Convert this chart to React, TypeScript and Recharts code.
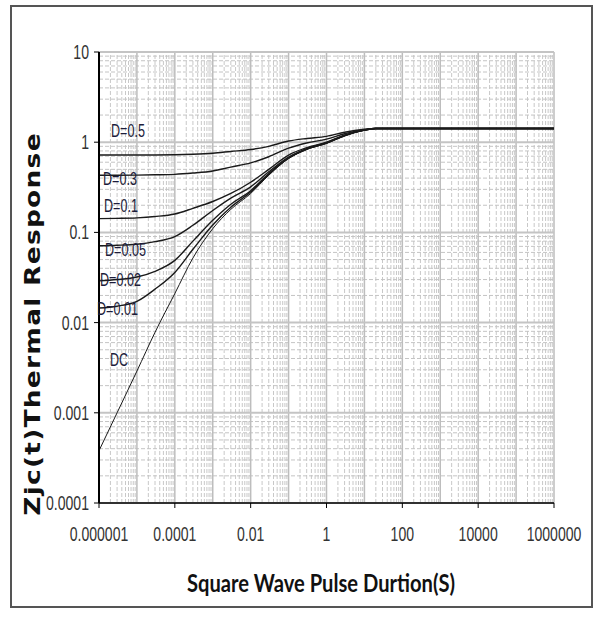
import React from 'react'
import { LineChart, Line, XAxis, YAxis, ReferenceLine } from 'recharts'

// pulse duration (s) and Zjc(t) readings for each duty cycle
const pulseTimes = [1e-6, 3e-6, 1e-5, 3e-5, 1e-4, 3e-4, 1e-3, 3e-3, 1e-2, 3e-2, 0.1, 0.3, 1, 3, 10, 20, 100, 1e3, 1e4, 1e5, 1e6]
const zDC = [0.00038, 0.001, 0.0029, 0.0078, 0.021, 0.052, 0.11, 0.18, 0.27, 0.43, 0.66, 0.83, 0.97, 1.18, 1.36, 1.42, 1.42, 1.42, 1.42, 1.42, 1.42]
const zD001 = [0.0145, 0.0152, 0.0172, 0.0235, 0.036, 0.065, 0.121, 0.19, 0.28, 0.44, 0.665, 0.835, 0.975, 1.18, 1.36, 1.42, 1.42, 1.42, 1.42, 1.42, 1.42]
const zD002 = [0.029, 0.03, 0.032, 0.037, 0.049, 0.08, 0.136, 0.205, 0.29, 0.45, 0.67, 0.84, 0.98, 1.185, 1.36, 1.42, 1.42, 1.42, 1.42, 1.42, 1.42]
const zD005 = [0.071, 0.072, 0.074, 0.079, 0.09, 0.12, 0.175, 0.24, 0.32, 0.47, 0.685, 0.85, 0.99, 1.19, 1.365, 1.42, 1.42, 1.42, 1.42, 1.42, 1.42]
const zD01 = [0.142, 0.143, 0.145, 0.15, 0.16, 0.185, 0.22, 0.27, 0.36, 0.5, 0.72, 0.87, 1.0, 1.2, 1.37, 1.42, 1.42, 1.42, 1.42, 1.42, 1.42]
const zD03 = [0.43, 0.43, 0.432, 0.435, 0.44, 0.455, 0.48, 0.53, 0.59, 0.69, 0.86, 0.98, 1.08, 1.24, 1.38, 1.42, 1.42, 1.42, 1.42, 1.42, 1.42]
const zD05 = [0.72, 0.72, 0.72, 0.722, 0.725, 0.735, 0.755, 0.79, 0.83, 0.9, 1.03, 1.1, 1.16, 1.29, 1.39, 1.42, 1.42, 1.42, 1.42, 1.42, 1.42]

const xTicks = [1e-6, 1e-4, 1e-2, 1, 100, 1e4, 1e6]
const yTicks = [1e-4, 1e-3, 1e-2, 0.1, 1, 10]

const data = pulseTimes.map((t, i) => ({
  t,
  dc: zDC[i],
  d001: zD001[i],
  d002: zD002[i],
  d005: zD005[i],
  d01: zD01[i],
  d03: zD03[i],
  d05: zD05[i],
}))

const seriesKeys = ['dc', 'd001', 'd002', 'd005', 'd01', 'd03', 'd05']

// curve labels placed by hand next to the left ends (x, baseline)
const curveLabels = [
  { text: 'D=0.5', x: 111, y: 137 },
  { text: 'D=0.3', x: 103, y: 185 },
  { text: 'D=0.1', x: 104, y: 212 },
  { text: 'D=0.05', x: 105, y: 256 },
  { text: 'D=0.02', x: 100, y: 286 },
  { text: 'D=0.01', x: 97, y: 315 },
  { text: 'DC', x: 110, y: 366 },
]

const decadeLines = (lo: number, hi: number) => {
  const major: number[] = []
  const minor: number[] = []
  for (let e = lo; e <= hi; e++) {
    major.push(Math.pow(10, e))
    if (e < hi) for (let k = 2; k <= 9; k++) minor.push(k * Math.pow(10, e))
  }
  return { major, minor }
}

const xGrid = decadeLines(-6, 6)
const yGrid = decadeLines(-4, 1)

const fmt = (v: number) => {
  if (v >= 1) return String(Math.round(v))
  const d = Math.round(-Math.log10(v))
  return v.toFixed(d)
}

// narrow, tall tick text like the original
const XTick = (props: any) => {
  const { x, y, payload } = props
  return (
    <text
      transform={`translate(${x},${y + 33}) scale(0.67,1)`}
      textAnchor="middle"
      fontFamily="Liberation Sans"
      fontSize={21}
      fill="#333"
    >
      {fmt(payload.value)}
    </text>
  )
}

const YTick = (props: any) => {
  const { x, y, payload } = props
  return (
    <text
      transform={`translate(${x},${y + 7}) scale(0.67,1)`}
      textAnchor="end"
      fontFamily="Liberation Sans"
      fontSize={21}
      fill="#333"
    >
      {fmt(payload.value)}
    </text>
  )
}

export default function App() {
  return (
    <div style={{ position: 'absolute', left: 0, top: 0, width: 602, height: 619, background: '#fff' }}>
      <div
        style={{
          position: 'absolute',
          left: 10,
          top: 5,
          width: 583,
          height: 603,
          border: '2px solid #555',
          boxSizing: 'border-box',
        }}
      />
      <div style={{ position: 'absolute', left: 0, top: 0 }}>
        <LineChart width={602} height={619} data={data} margin={{ top: 52, right: 48, bottom: 86, left: 0 }}>
          {xGrid.minor.map((v) => (
            <ReferenceLine key={`xm${v}`} x={v} stroke="#c8c8c8" strokeDasharray="4 2" />
          ))}
          {yGrid.minor.map((v) => (
            <ReferenceLine key={`ym${v}`} y={v} stroke="#c4c4c4" strokeDasharray="4 2" />
          ))}
          {xGrid.major.map((v) => (
            <ReferenceLine key={`xM${v}`} x={v} stroke="#bdbdbd" strokeWidth={1.5} />
          ))}
          {yGrid.major.map((v) => (
            <ReferenceLine key={`yM${v}`} y={v} stroke="#c4c4c4" strokeWidth={2} />
          ))}
          <XAxis
            dataKey="t"
            type="number"
            scale="log"
            domain={[1e-6, 1e6]}
            ticks={xTicks}
            allowDataOverflow
            height={30}
            tickSize={5}
            tickMargin={0}
            tick={<XTick />}
            axisLine={{ stroke: '#000', strokeWidth: 1.5 }}
            tickLine={{ stroke: '#000' }}
            interval={0}
          />
          <YAxis
            type="number"
            scale="log"
            domain={[1e-4, 10]}
            ticks={yTicks}
            allowDataOverflow
            width={99}
            tickSize={5}
            tickMargin={5}
            tick={<YTick />}
            axisLine={{ stroke: '#000', strokeWidth: 2 }}
            tickLine={{ stroke: '#000' }}
            interval={0}
          />
          {seriesKeys.map((k) => (
            <Line
              key={k}
              dataKey={k}
              type="monotone"
              stroke="#1a1a1a"
              strokeWidth={k === 'dc' ? 1 : 1.4}
              dot={false}
              isAnimationActive={false}
            />
          ))}
        </LineChart>
      </div>
      <svg width={602} height={619} style={{ position: 'absolute', left: 0, top: 0, pointerEvents: 'none' }}>
        {curveLabels.map((l) => (
          <text
            key={l.text}
            transform={`translate(${l.x},${l.y}) scale(0.7,1)`}
            fontFamily="Liberation Sans"
            fontSize={18}
            fill="#1c1c3a"
          >
            {l.text}
          </text>
        ))}
        <text
          transform="translate(321,592) scale(0.84,1)"
          textAnchor="middle"
          fontFamily="Lato"
          fontWeight="bold"
          fontSize={24}
          fill="#111"
        >
          Square Wave Pulse Durtion(S)
        </text>
        <text
          transform="translate(40,324) rotate(-90) scale(1.26,1)"
          textAnchor="middle"
          fontFamily="DejaVu Sans"
          fontWeight="bold"
          fontSize={21}
          letterSpacing={1}
          fill="#111"
        >
          Zjc(t)Thermal Response
        </text>
      </svg>
    </div>
  )
}
